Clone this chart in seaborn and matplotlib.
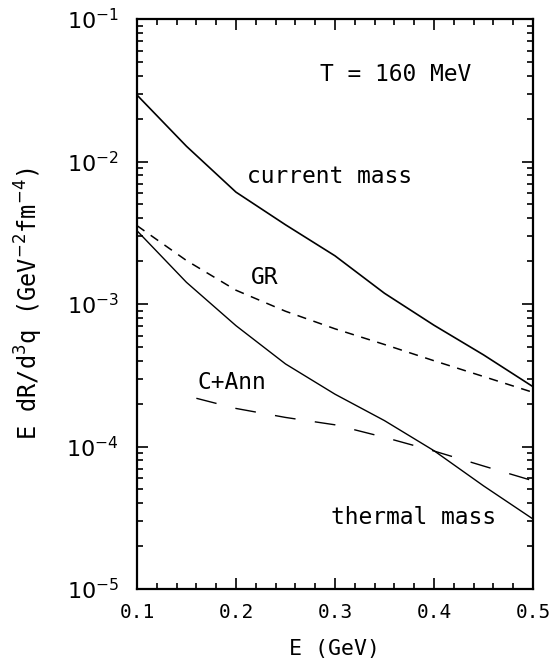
import numpy as np
import pandas as pd
import seaborn as sns
import matplotlib.pyplot as plt
from matplotlib.ticker import MultipleLocator, LogLocator, NullFormatter, FuncFormatter

# values
e_curves = [0.10, 0.15, 0.20, 0.25, 0.30, 0.35, 0.40, 0.45, 0.50]
current_mass = [2.93e-2, 1.28e-2, 6.1e-3, 3.6e-3, 2.18e-3, 1.19e-3, 7.1e-4, 4.4e-4, 2.63e-4]
gr = [3.55e-3, 2.02e-3, 1.25e-3, 8.9e-4, 6.7e-4, 5.2e-4, 4.0e-4, 3.1e-4, 2.4e-4]
thermal_mass = [3.27e-3, 1.42e-3, 7.05e-4, 3.8e-4, 2.33e-4, 1.52e-4, 9.35e-5, 5.3e-5, 3.1e-5]

e_cann = [0.16, 0.20, 0.25, 0.30, 0.35, 0.40, 0.45, 0.50]
c_ann = [2.18e-4, 1.85e-4, 1.6e-4, 1.42e-4, 1.16e-4, 9.3e-5, 7.3e-5, 5.75e-5]

df = pd.DataFrame({'E': e_curves, 'current mass': current_mass,
                   'GR': gr, 'thermal mass': thermal_mass})
df_cann = pd.DataFrame({'E': e_cann, 'C+Ann': c_ann})

sns.set_style("ticks", {'text.color': 'black', 'axes.labelcolor': 'black',
                        'xtick.color': 'black', 'ytick.color': 'black',
                        'axes.edgecolor': 'black'})
plt.rcParams['font.family'] = ['DejaVu Sans Mono', 'DejaVu Sans']
plt.rcParams['mathtext.fontset'] = 'dejavusans'

fig = plt.figure(figsize=(5.5, 6.63), dpi=100)
ax = fig.add_axes([0.249, 0.1116, 0.72, 0.8597])

sns.lineplot(data=df, x='E', y='current mass', color='black', lw=1.2, ax=ax)
sns.lineplot(data=df, x='E', y='thermal mass', color='black', lw=1.0, ax=ax)
sns.lineplot(data=df, x='E', y='GR', color='black', lw=1.1, ax=ax)
sns.lineplot(data=df_cann, x='E', y='C+Ann', color='black', lw=1.0, ax=ax)
ax.lines[2].set_dashes([6, 5])
ax.lines[3].set_dashes([15, 14])

ax.set_yscale('log')
ax.set_xlim(0.1, 0.5)
ax.set_ylim(1e-5, 1e-1)

ax.xaxis.set_major_locator(MultipleLocator(0.1))
ax.xaxis.set_minor_locator(MultipleLocator(0.02))
ax.yaxis.set_major_locator(LogLocator(base=10, numticks=10))
ax.yaxis.set_minor_locator(LogLocator(base=10, subs=np.arange(2, 10), numticks=20))
ax.yaxis.set_minor_formatter(NullFormatter())
ax.yaxis.set_major_formatter(FuncFormatter(
    lambda v, p: r'$10^{%d}$' % round(np.log10(v))))
ax.tick_params(which='both', direction='in', top=True, right=True, width=1.2)
ax.tick_params(which='major', length=8)
ax.tick_params(axis='x', which='major', pad=10, labelsize=14)
ax.tick_params(axis='y', which='major', pad=13, labelsize=16)
ax.tick_params(which='minor', length=4)
for s in ax.spines.values():
    s.set_linewidth(1.6)

ax.set_xlabel('E (GeV)', fontsize=15.5, labelpad=12)
ax.set_ylabel(r'E dR/d$^3$q (GeV$^{-2}$fm$^{-4}$)', fontsize=17)
ax.yaxis.set_label_coords(-0.232, 0.5)

ax.text(0.361, 4.06e-2, 'T = 160 MeV', fontsize=16.5, ha='center', va='center')
ax.text(0.295, 7.8e-3, 'current mass', fontsize=16.5, ha='center', va='center')
ax.text(0.229, 1.53e-3, 'GR', fontsize=16.5, ha='center', va='center')
ax.text(0.196, 2.8e-4, 'C+Ann', fontsize=16.5, ha='center', va='center')
ax.text(0.379, 3.16e-5, 'thermal mass', fontsize=16.5, ha='center', va='center')

fig.savefig('out.png', dpi=100)
